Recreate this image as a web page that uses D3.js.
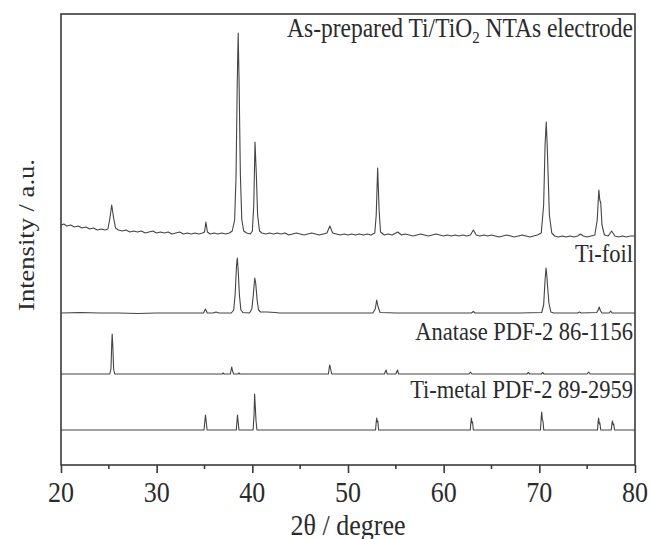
<!DOCTYPE html>
<html>
<head>
<meta charset="utf-8">
<script src="https://cdn.jsdelivr.net/npm/d3@7"></script>
<style>
    body { margin: 0; background: #fff; }
    svg { display: block; }
</style>
</head>
<body>
<div id="root"></div>
<script>
// 2θ / intensity (a.u.), one list per pattern
const asPrepared = [
    [20.0,240],[20.3,241],[20.6,239],[21.0,240],[21.4,238],[21.8,239],[22.2,237],[22.6,238],[23.0,236],[23.4,237],
    [23.8,235],[24.2,236],[24.6,235],[24.9,236],[25.1,246],[25.3,260],[25.5,247],[25.7,237],[26.0,235],[26.4,234],
    [26.8,235],[27.2,233],[27.6,234],[28.0,233],[28.4,234],[28.8,232],[29.2,233],[29.6,234],[30.0,232],[30.4,233],
    [30.8,232],[31.2,233],[31.6,231],[32.0,232],[32.4,233],[32.8,231],[33.2,232],[33.6,231],[34.0,232],[34.4,231],
    [34.8,232],[35.0,233],[35.15,243],[35.3,233],[35.6,231],[36.0,232],[36.4,231],[36.8,232],[37.2,231],[37.6,232],
    [37.9,234],[38.15,245],[38.3,290],[38.42,380],[38.52,432],[38.62,380],[38.75,290],[38.9,245],[39.1,234],[39.4,232],
    [39.8,231],[40.0,234],[40.15,260],[40.28,323],[40.42,290],[40.55,250],[40.75,234],[41.0,232],[41.4,231],[41.8,232],
    [42.2,231],[42.6,232],[43.0,231],[43.4,232],[43.8,230],[44.2,231],[44.6,232],[45.0,231],[45.4,230],[45.8,231],
    [46.2,232],[46.6,231],[47.0,230],[47.4,231],[47.8,232],[48.1,239],[48.4,232],[48.8,231],[49.2,230],[49.6,231],
    [50.0,230],[50.4,231],[50.8,230],[51.2,231],[51.6,230],[52.0,231],[52.4,230],[52.8,232],[52.95,250],[53.1,297],
    [53.25,255],[53.4,233],[53.8,230],[54.2,231],[54.6,230],[55.2,233],[55.6,230],[56.0,231],[56.4,230],[56.8,229],
    [57.2,230],[57.6,231],[58.0,230],[58.4,229],[58.8,230],[59.2,231],[59.6,230],[60.0,229],[60.4,230],[60.8,229],
    [61.2,230],[61.6,229],[62.0,230],[62.4,229],[62.8,230],[63.1,235],[63.4,230],[63.8,229],[64.2,230],[64.6,229],
    [65.0,230],[65.4,229],[65.8,228],[66.2,229],[66.6,230],[67.0,229],[67.4,228],[67.8,229],[68.2,230],[68.6,229],
    [69.0,228],[69.4,229],[69.8,230],[70.2,232],[70.45,260],[70.6,320],[70.72,343],[70.82,320],[70.92,290],[71.05,250],
    [71.3,232],[71.6,229],[72.0,228],[72.4,229],[72.8,228],[73.2,229],[73.6,228],[74.0,229],[74.3,231],[74.6,229],
    [75.0,228],[75.4,229],[75.8,230],[76.05,245],[76.22,275],[76.32,265],[76.42,262],[76.55,240],[76.8,230],[77.2,229],
    [77.55,234],[77.9,229],[78.3,228],[78.7,229],[79.1,228],[79.5,229],[80.0,229]
];

const tiFoil = [
    [20,152],[22,152.5],[24,152],[26,152],[28,151.5],[30,152],[32,152],[34,152],[34.9,152],[35.1,156],
    [35.3,152],[35.9,152],[36.2,153],[36.5,152],[37.8,152],[38.05,155],[38.2,170],[38.35,200],[38.43,207],[38.52,195],
    [38.65,170],[38.8,155],[39.0,152.5],[39.7,152],[39.95,156],[40.1,170],[40.25,187],[40.35,182],[40.5,165],[40.65,155],
    [40.85,153],[41.5,153],[42.4,152.5],[42.8,152],[45,152],[50,152],[52.6,152],[52.85,156],[53.0,165],[53.15,158],
    [53.35,152.5],[55,152],[60,152],[62.9,152],[63.1,153.5],[63.3,152],[68,152],[70.25,152.5],[70.45,160],[70.6,185],
    [70.7,197],[70.78,190],[70.85,180],[71.0,162],[71.2,153],[71.5,152],[74.0,152],[74.2,153],[74.4,152],[76.0,152.5],
    [76.15,155],[76.25,158],[76.4,154],[76.55,152],[77.3,152],[77.45,154],[77.6,152],[80,152]
];

const anatase = [
    [20,91],[25.1,91],[25.22,96],[25.3,120],[25.35,131],[25.42,118],[25.5,96],[25.62,91],[36.85,91],[36.95,92],
    [37.05,91],[37.7,91],[37.8,96],[37.85,98],[37.93,94],[38.05,91],[38.5,91],[38.6,92],[38.7,91],[47.95,91],
    [48.05,98],[48.1,100],[48.18,96],[48.3,91],[53.8,91],[53.93,94],[53.98,95],[54.1,91],[55.0,91],[55.12,94],
    [55.17,95],[55.3,91],[62.65,91],[62.8,93],[62.95,91],[68.7,91],[68.85,92.5],[69.0,91],[70.2,91],[70.35,92.5],
    [70.5,91],[75.0,91],[75.15,93],[75.3,91],[80,91]
];

const tiMetal = [
    [20,35],[34.95,35],[35.05,45],[35.1,50],[35.17,44],[35.27,35],[38.32,35],[38.4,44],[38.45,50],[38.52,43],
    [38.6,35],[40.08,35],[40.18,50],[40.24,71],[40.3,60],[40.38,45],[40.48,35],[52.88,35],[52.96,44],[53.0,47],
    [53.06,43],[53.12,44],[53.2,35],[62.78,35],[62.86,44],[62.9,47],[62.96,42],[63.02,43],[63.1,35],[70.12,35],
    [70.2,48],[70.25,53],[70.32,45],[70.38,44],[70.46,35],[76.08,35],[76.15,44],[76.2,47],[76.27,41],[76.33,42],
    [76.42,35],[77.52,35],[77.6,42],[77.65,44],[77.72,40],[77.78,41],[77.86,35],[80,35]
];

const series = [asPrepared, tiFoil, anatase, tiMetal];
const labels = ["Ti-foil", "Anatase PDF-2 86-1156", "Ti-metal PDF-2 89-2959"];
const labelLevels = [203, 125, 67];   // label baselines, a.u.
const xTicks = [20, 30, 40, 50, 60, 70, 80];
const xMinor = [25, 35, 45, 55, 65, 75];

(function () {
    const W = 650, H = 539;
    const mLeft = 61, mRight = 635, mTop = 14, mBottom = 465;
    const stretch = 1.13; // the picture is a bit taller than wide, text too
    const font = "Liberation Serif";
    const ink = "#2b2b2b";

    const x = d3.scaleLinear().domain([20, 80]).range([mLeft, mRight]);
    const y = d3.scaleLinear().domain([0, 451]).range([mBottom, mTop]);

    const svg = d3.select("#root").append("svg")
        .attr("width", W).attr("height", H);

    const line = d3.line().x(d => x(d[0])).y(d => y(d[1]));

    // patterns
    svg.append("g").selectAll("path").data(series).join("path")
        .attr("d", line)
        .attr("fill", "none")
        .attr("stroke", "#444")
        .attr("stroke-width", 1.1)
        .attr("stroke-linejoin", "round");

    // frame
    svg.append("rect")
        .attr("x", mLeft).attr("y", mTop)
        .attr("width", mRight - mLeft).attr("height", mBottom - mTop)
        .attr("fill", "none").attr("stroke", "#3a3a3a").attr("stroke-width", 1.6);

    // bottom axis, outward ticks
    const axis = svg.append("g").attr("transform", `translate(0,${mBottom})`)
        .call(d3.axisBottom(x).tickValues(xTicks).tickSize(8).tickFormat(""));
    axis.select(".domain").remove();
    axis.selectAll("line").attr("stroke", "#3a3a3a").attr("stroke-width", 1.6);

    svg.append("g").selectAll("line").data(xMinor).join("line")
        .attr("x1", d => x(d)).attr("x2", d => x(d))
        .attr("y1", mBottom).attr("y2", mBottom + 4)
        .attr("stroke", "#3a3a3a").attr("stroke-width", 1.6);

    svg.append("g").selectAll("text").data(xTicks).join("text")
        .attr("transform", d => `translate(${x(d)},502) scale(1,${stretch})`)
        .attr("text-anchor", "middle")
        .attr("font-family", font).attr("fill", ink)
        .attr("font-size", 26)
        .text(d => d);

    // axis titles
    svg.append("text")
        .attr("transform", `translate(${(mLeft + mRight) / 2},535) scale(1,${stretch})`)
        .attr("text-anchor", "middle")
        .attr("font-family", font).attr("fill", ink)
        .attr("font-size", 26)
        .text("2θ / degree");

    svg.append("text")
        .attr("transform", `translate(34,235) rotate(-90) scale(${stretch},1)`)
        .attr("text-anchor", "middle")
        .attr("font-family", font).attr("fill", ink)
        .attr("font-size", 23.5)
        .text("Intensity / a.u.");

    // pattern labels
    const title = svg.append("text")
        .attr("transform", `translate(633,37) scale(1,${stretch})`)
        .attr("text-anchor", "end")
        .attr("font-family", font).attr("fill", ink)
        .attr("font-size", 23.5);
    title.append("tspan").text("As-prepared Ti/TiO");
    title.append("tspan").attr("font-size", 15).attr("dy", 5).text("2");
    title.append("tspan").attr("dy", -5).text(" NTAs electrode");

    svg.append("g").selectAll("text").data(labels).join("text")
        .attr("transform", (d, i) => `translate(633,${y(labelLevels[i])}) scale(1,${stretch})`)
        .attr("text-anchor", "end")
        .attr("font-family", font).attr("fill", ink)
        .attr("font-size", 22.5)
        .text(d => d);
})();
</script>
</body>
</html>
